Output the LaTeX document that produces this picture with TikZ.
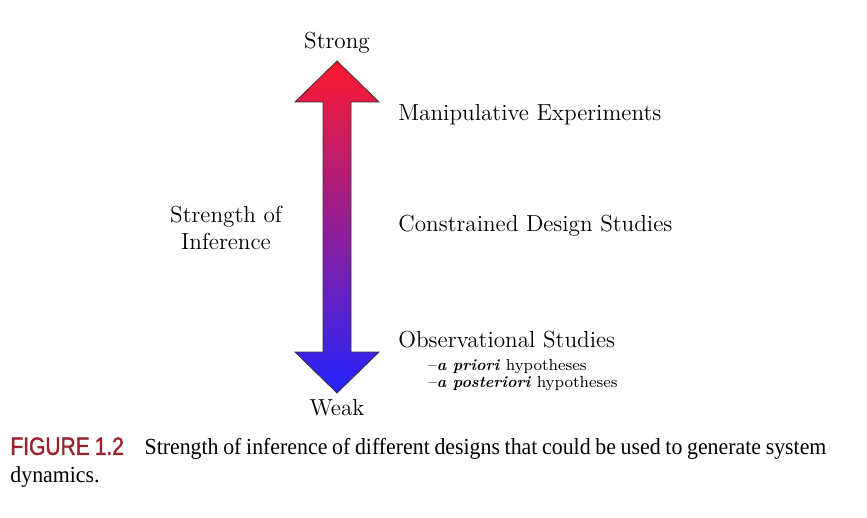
\documentclass[tikz,border=0pt]{standalone}
\usepackage{fontspec}
\usepackage{xcolor}
\usetikzlibrary{positioning}
\newfontfamily\capsans[FakeStretch=0.84,FakeBold=1.5]{Liberation Sans}
\newfontfamily\capserif[FakeStretch=0.95]{Liberation Serif}
\definecolor{figred}{RGB}{150,35,45}
\definecolor{topred}{RGB}{255,25,45}
\definecolor{botblue}{RGB}{35,35,255}

\begin{document}
\begin{tikzpicture}[
    x=0.5pt, y=-0.5pt,
    label/.style={inner sep=0pt, font=\fontsize{11.6}{13.2}\selectfont},
    level/.style={label, anchor=west},
    note/.style={inner sep=0pt, anchor=west, font=\fontsize{8}{9}\selectfont},
    scalebar/.style={draw=black!80, line width=0.4pt, top color=topred, bottom color=botblue}
]
\useasboundingbox (0,0) rectangle (867,518);

% double headed arrow
\shadedraw[scalebar] (337,61) -- (379,102) -- (351,102) -- (351,352) -- (379,352)
    -- (337,393) -- (295,352) -- (323,352) -- (323,102) -- (295,102) -- cycle;

\node[label] (strong) at (337,43) {Strong};
\node[label] (weak) at (337,408) {Weak};
\node[label, align=center] (inference) at (226,228) {Strength of\\Inference};

\node[level] (manip) at (398,115) {Manipulative Experiments};
\node[level] (constr) at (398,226) {Constrained Design Studies};
\node[level] (observ) at (398,340) {Observational Studies};
\node[note] (priori) at (428,367) {--\textbf{\textit{a priori}} hypotheses};
\node[note] (posteriori) at (428,384) {--\textbf{\textit{a posteriori}} hypotheses};

% caption
\node[anchor=north west, inner sep=0pt, text width=408pt, align=justify,
      font=\capserif\fontsize{11.5}{14}\selectfont] (caption) at (10,437)
    {\textcolor{figred}{\capsans\fontsize{12.5}{14}\selectfont FIGURE 1.2}\hspace{0.9em}Strength of inference of different designs that could be used to generate system dynamics.};
\end{tikzpicture}
\end{document}
